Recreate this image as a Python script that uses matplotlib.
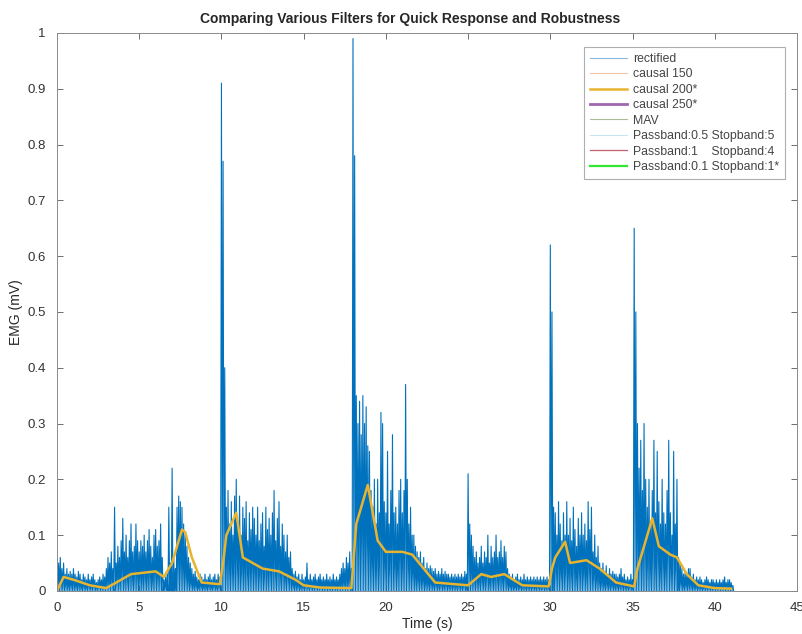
import numpy as np
import matplotlib
matplotlib.use("Agg")
import matplotlib.pyplot as plt

plt.rcParams['font.family'] = ['Liberation Sans', 'DejaVu Sans']

# rectified EMG: peak value of each 0.1 s window (one row per second)
dt = 0.1
rect_peaks = [
    0.02, 0.05, 0.06, 0.04, 0.05, 0.03, 0.04, 0.03, 0.035, 0.03,
    0.04, 0.03, 0.025, 0.035, 0.03, 0.02, 0.03, 0.025, 0.02, 0.03,
    0.02, 0.025, 0.03, 0.02, 0.015, 0.02, 0.025, 0.02, 0.03, 0.025,
    0.04, 0.06, 0.05, 0.07, 0.04, 0.15, 0.05, 0.08, 0.06, 0.09,
    0.13, 0.07, 0.1, 0.06, 0.09, 0.12, 0.07, 0.08, 0.12, 0.09,
    0.07, 0.09, 0.08, 0.1, 0.07, 0.09, 0.11, 0.08, 0.06, 0.1,
    0.11, 0.08, 0.09, 0.12, 0.06, 0.02, 0.025, 0.03, 0.15, 0.05,
    0.22, 0.06, 0.04, 0.15, 0.17, 0.16, 0.15, 0.12, 0.1, 0.08,
    0.06, 0.05, 0.04, 0.03, 0.035, 0.025, 0.02, 0.03, 0.025, 0.02,
    0.03, 0.02, 0.025, 0.03, 0.02, 0.025, 0.03, 0.02, 0.03, 0.025,
    0.91, 0.77, 0.4, 0.15, 0.18, 0.12, 0.16, 0.1, 0.17, 0.2,
    0.12, 0.17, 0.1, 0.15, 0.13, 0.16, 0.09, 0.14, 0.11, 0.15,
    0.13, 0.1, 0.15, 0.09, 0.12, 0.14, 0.08, 0.15, 0.11, 0.13,
    0.1, 0.14, 0.18, 0.09, 0.13, 0.16, 0.08, 0.12, 0.1, 0.07,
    0.1, 0.06, 0.07, 0.04, 0.03, 0.035, 0.025, 0.03, 0.02, 0.03,
    0.02, 0.025, 0.05, 0.02, 0.03, 0.02, 0.025, 0.03, 0.02, 0.025,
    0.03, 0.02, 0.025, 0.02, 0.03, 0.02, 0.025, 0.02, 0.03, 0.02,
    0.025, 0.02, 0.03, 0.04, 0.05, 0.04, 0.06, 0.05, 0.07, 0.04,
    0.99, 0.78, 0.35, 0.3, 0.34, 0.28, 0.35, 0.3, 0.33, 0.26,
    0.25, 0.18, 0.15, 0.2, 0.12, 0.2, 0.14, 0.32, 0.3, 0.16,
    0.14, 0.25, 0.12, 0.18, 0.28, 0.14, 0.15, 0.12, 0.18, 0.2,
    0.14, 0.18, 0.37, 0.2, 0.12, 0.15, 0.1, 0.1, 0.08, 0.07,
    0.06, 0.07, 0.05, 0.06, 0.04, 0.05, 0.04, 0.045, 0.04, 0.035,
    0.04, 0.03, 0.035, 0.03, 0.04, 0.03, 0.035, 0.03, 0.03, 0.025,
    0.03, 0.025, 0.03, 0.025, 0.03, 0.025, 0.03, 0.025, 0.035, 0.03,
    0.21, 0.12, 0.1, 0.08, 0.06, 0.07, 0.05, 0.06, 0.08, 0.05,
    0.07, 0.06, 0.1, 0.05, 0.08, 0.06, 0.07, 0.1, 0.06, 0.07,
    0.09, 0.06, 0.08, 0.07, 0.04, 0.03, 0.025, 0.03, 0.02, 0.025,
    0.03, 0.02, 0.025, 0.02, 0.03, 0.02, 0.025, 0.02, 0.025, 0.02,
    0.025, 0.02, 0.025, 0.02, 0.025, 0.02, 0.025, 0.02, 0.025, 0.02,
    0.62, 0.5, 0.15, 0.14, 0.1, 0.16, 0.12, 0.09, 0.14, 0.1,
    0.16, 0.1, 0.13, 0.09, 0.15, 0.11, 0.08, 0.13, 0.1, 0.14,
    0.1, 0.12, 0.09, 0.16, 0.11, 0.15, 0.07, 0.1, 0.06, 0.08,
    0.05, 0.04, 0.05, 0.035, 0.045, 0.03, 0.04, 0.03, 0.035, 0.03,
    0.03, 0.025, 0.03, 0.04, 0.025, 0.03, 0.02, 0.025, 0.02, 0.03,
    0.02, 0.65, 0.5, 0.3, 0.22, 0.27, 0.18, 0.3, 0.2, 0.15,
    0.2, 0.12, 0.18, 0.27, 0.14, 0.25, 0.16, 0.12, 0.2, 0.14,
    0.12, 0.18, 0.27, 0.14, 0.1, 0.25, 0.12, 0.2, 0.06, 0.05,
    0.04, 0.03, 0.035, 0.03, 0.04, 0.04, 0.025, 0.03, 0.02, 0.025,
    0.02, 0.025, 0.02, 0.015, 0.02, 0.025, 0.02, 0.015, 0.02, 0.02,
    0.015, 0.02, 0.015, 0.02, 0.015, 0.02, 0.025, 0.015, 0.02, 0.02,
    0.015, 0.01,
]
# causal 200 filter output, read at its turning points
causal200_t = [0.0, 0.4, 1.0, 2.0, 3.0, 4.5, 6.0, 6.5, 7.0, 7.6, 7.8, 8.2, 8.8,
               9.9, 10.1, 10.3, 10.9, 11.3, 12.5, 13.5, 14.5, 15.0, 16.0, 17.9,
               18.2, 18.9, 19.5, 20.0, 21.0, 21.6, 22.3, 23.0, 25.0, 25.8, 26.4,
               27.2, 28.3, 29.9, 30.1, 30.3, 30.9, 31.2, 32.2, 33.0, 34.0, 35.1,
               35.3, 35.7, 36.2, 36.6, 37.3, 37.7, 38.3, 39.0, 40.0, 41.0]
causal200_v = [0.0, 0.025, 0.02, 0.01, 0.005, 0.03, 0.035, 0.025, 0.05, 0.11,
               0.105, 0.06, 0.015, 0.012, 0.05, 0.1, 0.14, 0.06, 0.04, 0.035,
               0.02, 0.01, 0.006, 0.005, 0.12, 0.19, 0.09, 0.07, 0.07, 0.065,
               0.04, 0.015, 0.01, 0.03, 0.025, 0.03, 0.01, 0.008, 0.04, 0.06,
               0.088, 0.05, 0.055, 0.04, 0.015, 0.008, 0.04, 0.08, 0.13, 0.08,
               0.065, 0.06, 0.03, 0.01, 0.005, 0.004]

legend_entries = ['rectified', 'causal 150', 'causal 200*', 'causal 250*', 'MAV',
                  'Passband:0.5 Stopband:5', 'Passband:1    Stopband:4',
                  'Passband:0.1 Stopband:1*']
x_ticks = [0, 5, 10, 15, 20, 25, 30, 35, 40, 45]
y_ticks = [0, 0.1, 0.2, 0.3, 0.4, 0.5, 0.6, 0.7, 0.8, 0.9, 1]

# each window: its peak, then the floor of the rectified signal
peaks = np.array(rect_peaks)
t_win = np.arange(len(peaks)) * dt
rect_t = np.column_stack([t_win, t_win + dt / 2]).ravel()
rect_v = np.column_stack([peaks, np.zeros_like(peaks)]).ravel()

fig = plt.figure(figsize=(8.03, 6.34), dpi=100)
ax = fig.add_axes([0.071, 0.068, 0.9215, 0.88])

ax.plot(rect_t, rect_v, color='#0072BD', lw=0.8, label=legend_entries[0])
ax.plot([], [], color='#f2c4a8', lw=0.8, label=legend_entries[1])
ax.plot(causal200_t, causal200_v, color='#E8B32E', lw=1.8, label=legend_entries[2])
ax.plot([], [], color='#a066b0', lw=2.0, label=legend_entries[3])
ax.plot([], [], color='#a9bd9a', lw=0.8, label=legend_entries[4])
ax.plot([], [], color='#c8e4f2', lw=0.8, label=legend_entries[5])
ax.plot([], [], color='#c46070', lw=0.9, label=legend_entries[6])
ax.plot([], [], color='#33e633', lw=1.6, label=legend_entries[7])

ax.set_xlim(0, 45)
ax.set_ylim(0, 1)
ax.set_xticks(x_ticks)
ax.set_yticks(y_ticks)
ax.set_yticklabels([f'{v:g}' for v in y_ticks])
ax.tick_params(direction='in', length=4, width=0.6, top=True, right=True,
               labelsize=9.5, colors='#555555', labelcolor='#333333')
ax.tick_params(axis='x', pad=8)
ax.tick_params(axis='y', pad=8)
for sp in ax.spines.values():
    sp.set_color('#8a8a8a')
    sp.set_linewidth(0.7)

ax.set_xlabel('Time (s)', fontsize=10, color='#262626', labelpad=2)
ax.set_ylabel('EMG (mV)', fontsize=10, color='#262626', labelpad=3)
ax.set_title('Comparing Various Filters for Quick Response and Robustness',
             fontsize=10, fontweight='bold', color='#262626', pad=7, x=0.477)

leg = ax.legend(loc='upper right', bbox_to_anchor=(0.984, 0.975), fontsize=8.8,
                frameon=True, fancybox=False, edgecolor='#9a9a9a',
                handlelength=3.0, labelspacing=0.28, borderpad=0.5,
                handletextpad=0.5, borderaxespad=0)
leg.get_frame().set_linewidth(0.8)
leg.legend_handles[0].set_color('#8fb8dc')
for txt in leg.get_texts():
    txt.set_color('#444444')

fig.savefig('out.png', dpi=100)
